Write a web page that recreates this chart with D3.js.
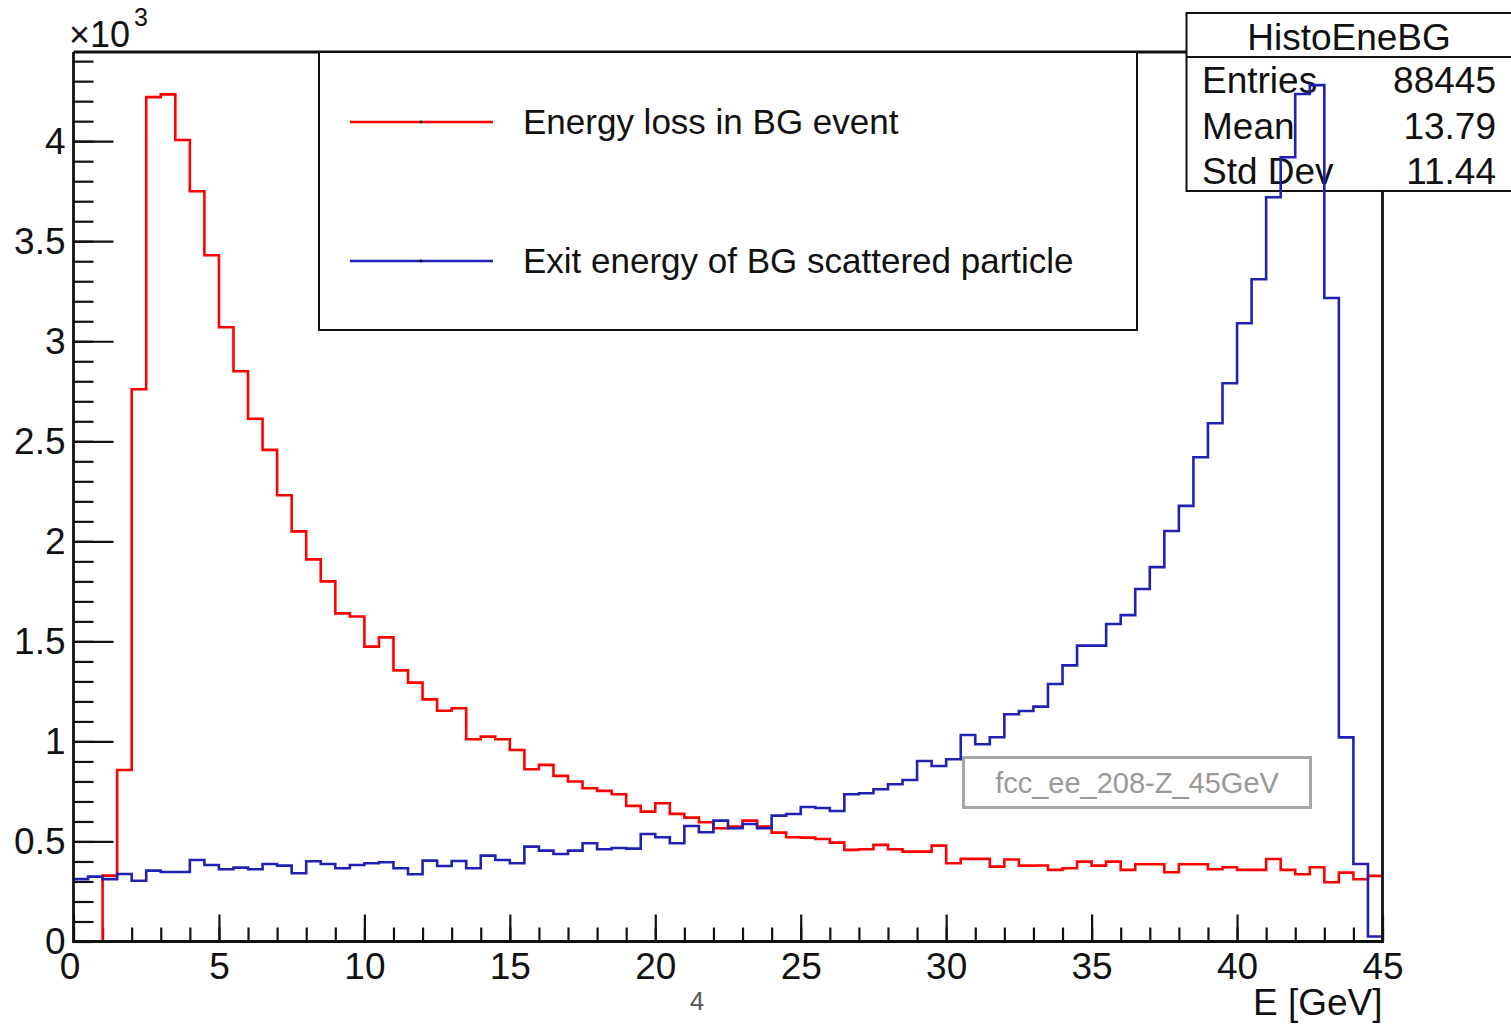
<!DOCTYPE html>
<html>
<head>
<meta charset="utf-8">
<script src="https://cdn.jsdelivr.net/npm/d3@7"></script>
<style>
	html, body { margin: 0; padding: 0; background: #fff; }
	svg { display: block; font-family: "Liberation Sans", Arial, sans-serif; }
</style>
</head>
<body>
<div id="chart"></div>
<script>
// bin contents of the two histograms, 90 bins of 0.5 GeV from 0 to 45
const lossCounts = [
	0, 0, 329, 857, 2760, 4220, 4234, 4006, 3750, 3430,
	3070, 2850, 2613, 2457, 2230, 2050, 1910, 1800, 1640, 1624,
	1474, 1520, 1355, 1294, 1210, 1153, 1166, 1011, 1024, 1011,
	957, 861, 883, 828, 800, 766, 753, 736, 678, 649,
	691, 638, 619, 596, 566, 574, 604, 574, 544, 521,
	519, 512, 494, 458, 461, 483, 461, 449, 449, 479,
	391, 413, 413, 374, 410, 379, 380, 358, 366, 399,
	379, 399, 358, 386, 386, 346, 386, 386, 361, 371,
	358, 358, 412, 358, 336, 371, 296, 344, 311, 328,
];
const exitCounts = [
	312, 324, 312, 337, 304, 354, 347, 347, 407, 382,
	361, 369, 361, 387, 379, 341, 401, 387, 366, 382,
	391, 396, 366, 336, 404, 377, 402, 366, 429, 407,
	391, 474, 454, 437, 454, 491, 461, 467, 464, 537,
	521, 491, 577, 546, 604, 566, 587, 566, 629, 637,
	672, 667, 652, 736, 741, 761, 786, 807, 902, 877,
	911, 1032, 986, 1021, 1136, 1152, 1174, 1287, 1380, 1479,
	1479, 1587, 1631, 1762, 1871, 2052, 2177, 2420, 2590, 2790,
	3090, 3310, 3720, 3920, 4236, 4280, 3216, 1020, 387, 25,
];
const binWidth = 0.5;
const xMajorTicks = [0, 5, 10, 15, 20, 25, 30, 35, 40, 45];
const yMajorTicks = [0, 500, 1000, 1500, 2000, 2500, 3000, 3500, 4000];
const legendLabels = ["Energy loss in BG event", "Exit energy of BG scattered particle"];
const statRows = [
	["Entries", "88445"],
	["Mean", "13.79"],
	["Std Dev", "11.44"],
];

const width = 1511;
const height = 1025;
const frame = { left: 73.5, right: 1382.5, top: 52, bottom: 941.5 };
const lossColor = "#ff0000";
const exitColor = "#2020b4";
const ink = "#111";
const labelSize = 37;

const x = d3.scaleLinear().domain([0, 45]).range([frame.left, frame.right]);
// ROOT leaves 5% headroom above the tallest bin of the first drawn histogram
const yMax = d3.max(lossCounts) * 1.05;
const y = d3.scaleLinear().domain([0, yMax]).range([frame.bottom, frame.top]);

const svg = d3
	.select("#chart")
	.append("svg")
	.attr("width", width)
	.attr("height", height)
	.attr("viewBox", `0 0 ${width} ${height}`);

function stepPoints(counts) {
	const points = counts.map((value, i) => ({ edge: i * binWidth, value }));
	points.push({ edge: counts.length * binWidth, value: counts[counts.length - 1] });
	return points;
}

const histLine = d3
	.line()
	.x((d) => x(d.edge))
	.y((d) => y(d.value))
	.curve(d3.curveStepAfter);

function drawHist(counts, color) {
	svg
		.append("path")
		.attr("d", histLine(stepPoints(counts)))
		.attr("fill", "none")
		.attr("stroke", color)
		.attr("stroke-width", 2.6)
		.attr("stroke-linejoin", "miter");
}

function styleAxis(g) {
	g.select(".domain").remove();
	g.selectAll("line").attr("stroke", ink).attr("stroke-width", 2.2);
	g.selectAll("text")
		.attr("fill", ink)
		.attr("font-size", labelSize)
		.attr("font-family", "Liberation Sans, Arial, sans-serif");
}

// y axis: minor ticks every 100, major every 500, all pointing inward
svg
	.append("g")
	.attr("transform", `translate(${frame.left},0)`)
	.call(d3.axisLeft(y).tickValues(d3.range(0, yMax, 100)).tickSize(-20).tickFormat(""))
	.call(styleAxis);
svg
	.append("g")
	.attr("transform", `translate(${frame.left},0)`)
	.call(
		d3
			.axisLeft(y)
			.tickValues(yMajorTicks)
			.tickSize(-40)
			.tickPadding(8)
			.tickFormat((d) => String(d / 1000)),
	)
	.call(styleAxis);

// x axis: minor every 1 GeV, major every 5
svg
	.append("g")
	.attr("transform", `translate(0,${frame.bottom})`)
	.call(d3.axisBottom(x).tickValues(d3.range(0, 46, 1)).tickSize(-14).tickFormat(""))
	.call(styleAxis);
svg
	.append("g")
	.attr("transform", `translate(0,${frame.bottom})`)
	.call(d3.axisBottom(x).tickValues(xMajorTicks).tickSize(-27).tickPadding(11))
	.call(styleAxis)
	.call((g) => g.selectAll(".tick").filter((d) => d === 0).select("text").attr("dx", -4));

drawHist(lossCounts, lossColor);

// stats box sits above the frame but below the second histogram
const stats = svg.append("g");
stats
	.append("rect")
	.attr("x", 1186.5)
	.attr("y", 13)
	.attr("width", 340)
	.attr("height", 178)
	.attr("fill", "#fff")
	.attr("stroke", ink)
	.attr("stroke-width", 2);
stats
	.append("line")
	.attr("x1", 1186.5)
	.attr("x2", width)
	.attr("y1", 57)
	.attr("y2", 57)
	.attr("stroke", ink)
	.attr("stroke-width", 2);
stats
	.append("text")
	.attr("x", 1349)
	.attr("y", 50)
	.attr("text-anchor", "middle")
	.attr("font-size", labelSize)
	.attr("fill", ink)
	.text("HistoEneBG");
stats
	.selectAll(".stat-label")
	.data(statRows)
	.join("text")
	.attr("class", "stat-label")
	.attr("x", 1202)
	.attr("y", (d, i) => 93 + i * 45.5)
	.attr("font-size", labelSize)
	.attr("fill", ink)
	.text((d) => d[0]);
stats
	.selectAll(".stat-value")
	.data(statRows)
	.join("text")
	.attr("class", "stat-value")
	.attr("x", 1496)
	.attr("y", (d, i) => 93 + i * 45.5)
	.attr("text-anchor", "end")
	.attr("font-size", labelSize)
	.attr("fill", ink)
	.text((d) => d[1]);

drawHist(exitCounts, exitColor);

// frame lines drawn last so empty bins on the baseline stay black
svg
	.append("path")
	.attr(
		"d",
		`M${frame.left},${frame.top}V${frame.bottom}H${frame.right}V191M${frame.left},${frame.top}H1186.5`,
	)
	.attr("fill", "none")
	.attr("stroke", ink)
	.attr("stroke-width", 2.8);

// legend
const legend = svg.append("g");
legend
	.append("rect")
	.attr("x", 319)
	.attr("y", 52)
	.attr("width", 818)
	.attr("height", 278)
	.attr("fill", "#fff")
	.attr("stroke", ink)
	.attr("stroke-width", 2);
const legendRows = legend
	.selectAll(".legend-row")
	.data(legendLabels.map((label, i) => ({ label, color: [lossColor, exitColor][i] })))
	.join("g")
	.attr("class", "legend-row")
	.attr("transform", (d, i) => `translate(0,${122 + i * 139})`);
legendRows
	.append("line")
	.attr("x1", 350)
	.attr("x2", 493)
	.attr("stroke", (d) => d.color)
	.attr("stroke-width", 2.4);
legendRows
	.append("circle")
	.attr("cx", 421)
	.attr("r", 1.4)
	.attr("fill", ink);
legendRows
	.append("text")
	.attr("x", 523)
	.attr("dy", "0.33em")
	.attr("font-size", 35)
	.attr("fill", ink)
	.text((d) => d.label);

// sample tag
svg
	.append("rect")
	.attr("x", 963.5)
	.attr("y", 757.5)
	.attr("width", 347)
	.attr("height", 50)
	.attr("fill", "#fff")
	.attr("stroke", "#a6a6a6")
	.attr("stroke-width", 3);
svg
	.append("text")
	.attr("x", 1137)
	.attr("y", 793)
	.attr("text-anchor", "middle")
	.attr("font-size", 29)
	.attr("fill", "#999")
	.text("fcc_ee_208-Z_45GeV");

// axis exponent and titles
const exponent = svg.append("text").attr("x", 69).attr("y", 47).attr("fill", ink);
exponent.append("tspan").attr("font-size", 36).text("\u00d710");
exponent.append("tspan").attr("font-size", 25).attr("dx", 4).attr("dy", -21).text("3");

svg
	.append("text")
	.attr("x", frame.right)
	.attr("y", 1015)
	.attr("text-anchor", "end")
	.attr("font-size", labelSize)
	.attr("fill", ink)
	.text("E [GeV]");

svg
	.append("text")
	.attr("x", 697)
	.attr("y", 1010)
	.attr("text-anchor", "middle")
	.attr("font-size", 26)
	.attr("fill", "#555")
	.text("4");
</script>
</body>
</html>
